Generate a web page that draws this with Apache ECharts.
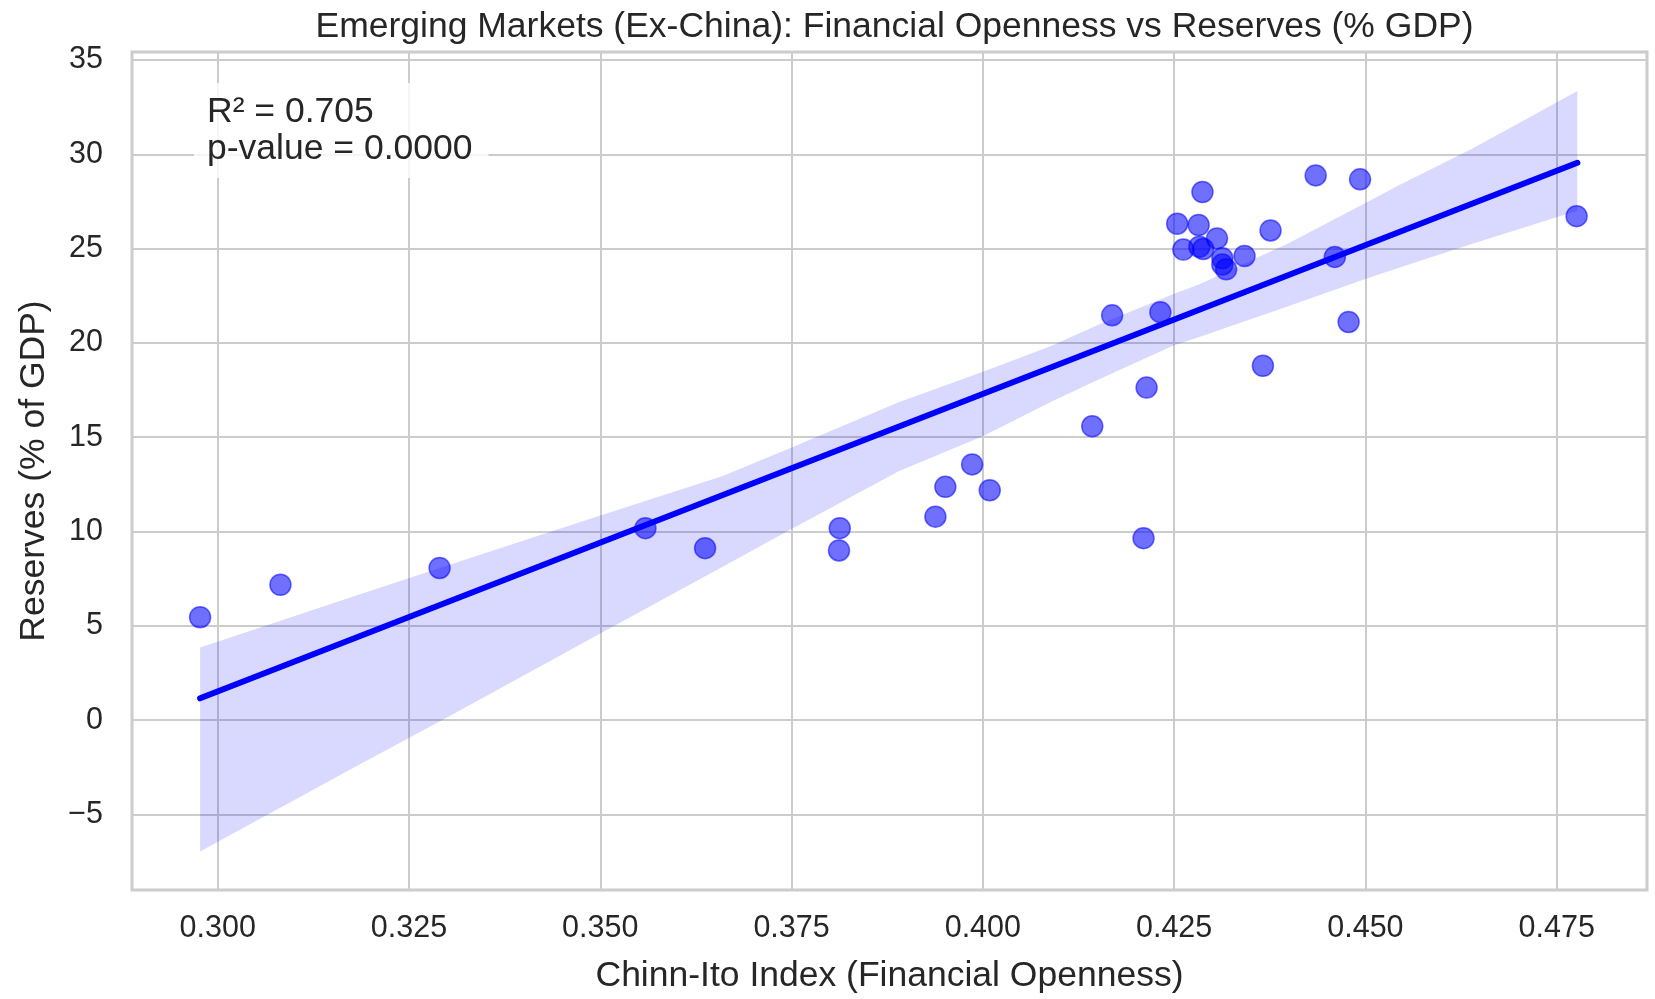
<!DOCTYPE html>
<html>
<head>
<meta charset="utf-8">
<title>Emerging Markets (Ex-China): Financial Openness vs Reserves (% GDP)</title>
<script src="https://cdn.jsdelivr.net/npm/echarts@6/dist/echarts.min.js"></script>
<style>
  html, body { margin: 0; padding: 0; background: #ffffff; }
  #chart { width: 1655px; height: 999px; }
</style>
</head>
<body>
<div id="chart"></div>
<script>
// Chinn-Ito index (x) and reserves as % of GDP (y), one entry per country-year
const openness = [0.2977, 0.3082, 0.3290, 0.3559, 0.3637, 0.3813, 0.3812, 0.3938, 0.3951, 0.3986,
  0.4009, 0.4143, 0.4169, 0.4210, 0.4214, 0.4232, 0.4287, 0.4254, 0.4282, 0.4306,
  0.4262, 0.4283, 0.4288, 0.4313, 0.4313, 0.4318, 0.4342, 0.4376, 0.4366, 0.4435,
  0.4460, 0.4478, 0.4493, 0.4776];
const reserves = [5.46, 7.18, 8.07, 10.18, 9.12, 10.18, 9.00, 10.79, 12.37, 13.56,
  12.19, 15.58, 21.46, 9.65, 17.63, 21.63, 28.00, 26.32, 26.25, 25.54,
  24.95, 25.10, 24.98, 24.49, 24.15, 23.90, 24.61, 25.96, 18.79, 28.88,
  24.56, 21.11, 28.67, 26.72];

// Fitted regression line (end points over the data range)
const fitX = [0.2977, 0.4777];
const fitY = [1.16, 29.55];

// 95% confidence band around the fit
const bandX     = [0.2977, 0.318, 0.3304, 0.350, 0.366, 0.375, 0.389, 0.400, 0.409, 0.415, 0.425, 0.4284, 0.440, 0.450, 0.4545, 0.464, 0.4777];
const bandUpper = [3.86,   6.60,  8.25,   10.85, 12.95, 14.45, 16.85, 18.47, 19.85, 20.95, 22.60, 23.12,  25.30, 27.42, 28.38,  30.30, 33.35];
const bandLower = [-6.96, -2.47,  0.23,   4.60,  8.13,  10.14, 13.20, 15.05, 16.90, 18.03, 19.88, 20.32,  21.95, 23.39, 24.00,  25.26, 27.00];

// Tick positions
const xTicks = [0.300, 0.325, 0.350, 0.375, 0.400, 0.425, 0.450, 0.475];
const yTicks = [-5, 0, 5, 10, 15, 20, 25, 30, 35];

const stats = { r2: '0.705', p: '0.0000' };

const FONT = '"Liberation Sans", Arial, Helvetica, sans-serif';
const INK = '#262626';
const GRID = '#cccccc';
const BIG = 35.5;
const TICK = 30.5;

const chart = echarts.init(document.getElementById('chart'), null, { renderer: 'canvas' });

const points = openness.map((x, i) => [x, reserves[i]]);
const fitLine = fitX.map((x, i) => [x, fitY[i]]);

const option = {
  backgroundColor: '#ffffff',
  animation: false,
  title: [{
    text: 'Emerging Markets (Ex-China): Financial Openness vs Reserves (% GDP)',
    left: 889.5,
    top: 4,
    textAlign: 'center',
    textStyle: { fontFamily: FONT, fontSize: BIG, fontWeight: 'normal', color: INK }
  }, {
    text: 'R\u00b2 = ' + stats.r2 + '\np-value = ' + stats.p,
    left: 194,
    top: 83,
    padding: [10, 16, 10, 13],
    backgroundColor: 'rgba(255,255,255,0.8)',
    textStyle: { fontFamily: FONT, fontSize: BIG, fontWeight: 'normal', color: INK, lineHeight: 37.5 },
    z: 10
  }],
  grid: {
    left: 132, right: 8, top: 52, bottom: 102,
    show: true, borderColor: GRID, borderWidth: 3, backgroundColor: 'transparent'
  },
  xAxis: {
    type: 'value',
    min: 0.2888, max: 0.4868,
    name: 'Chinn-Ito Index (Financial Openness)',
    nameLocation: 'middle',
    nameGap: 68,
    nameTextStyle: { fontFamily: FONT, fontSize: BIG, color: INK },
    axisLine: { show: false },
    axisTick: { show: false, customValues: xTicks },
    axisLabel: {
      customValues: xTicks,
      margin: 23,
      fontFamily: FONT, fontSize: TICK, color: INK,
      formatter: v => v.toFixed(3)
    },
    splitLine: { show: true, lineStyle: { color: GRID, width: 2 } }
  },
  yAxis: {
    type: 'value',
    min: -9.0, max: 35.42,
    name: 'Reserves (% of GDP)',
    nameLocation: 'middle',
    nameRotate: 90,
    nameGap: 80,
    nameTextStyle: { fontFamily: FONT, fontSize: BIG, color: INK },
    axisLine: { show: false },
    axisTick: { show: false, customValues: yTicks },
    axisLabel: {
      customValues: yTicks,
      margin: 29,
      fontFamily: FONT, fontSize: TICK, color: INK,
      formatter: v => (v < 0 ? '\u2212' + Math.abs(v) : String(v))
    },
    splitLine: { show: true, lineStyle: { color: GRID, width: 2 } }
  },
  series: [{
    name: 'Countries',
    type: 'scatter',
    data: points,
    symbol: 'circle',
    symbolSize: 21,
    itemStyle: { color: 'rgba(0,0,255,0.7)', borderColor: 'rgba(0,0,255,0.7)', borderWidth: 1.5 },
    z: 2
  }, {
    name: 'Fit',
    type: 'line',
    data: fitLine,
    showSymbol: false,
    symbol: 'none',
    lineStyle: { color: '#0000ff', width: 6, cap: 'round' },
    z: 3
  }, {
    name: 'Confidence band',
    type: 'custom',
    data: [0],
    z: 4,
    silent: true,
    renderItem: function (params, api) {
      const pts = [];
      for (let i = 0; i < bandX.length; i++) pts.push(api.coord([bandX[i], bandUpper[i]]));
      for (let i = bandX.length - 1; i >= 0; i--) pts.push(api.coord([bandX[i], bandLower[i]]));
      return {
        type: 'polygon',
        shape: { points: pts },
        style: { fill: 'rgba(0,0,255,0.15)', stroke: 'none' }
      };
    }
  }]
};

chart.setOption(option);
</script>
</body>
</html>
